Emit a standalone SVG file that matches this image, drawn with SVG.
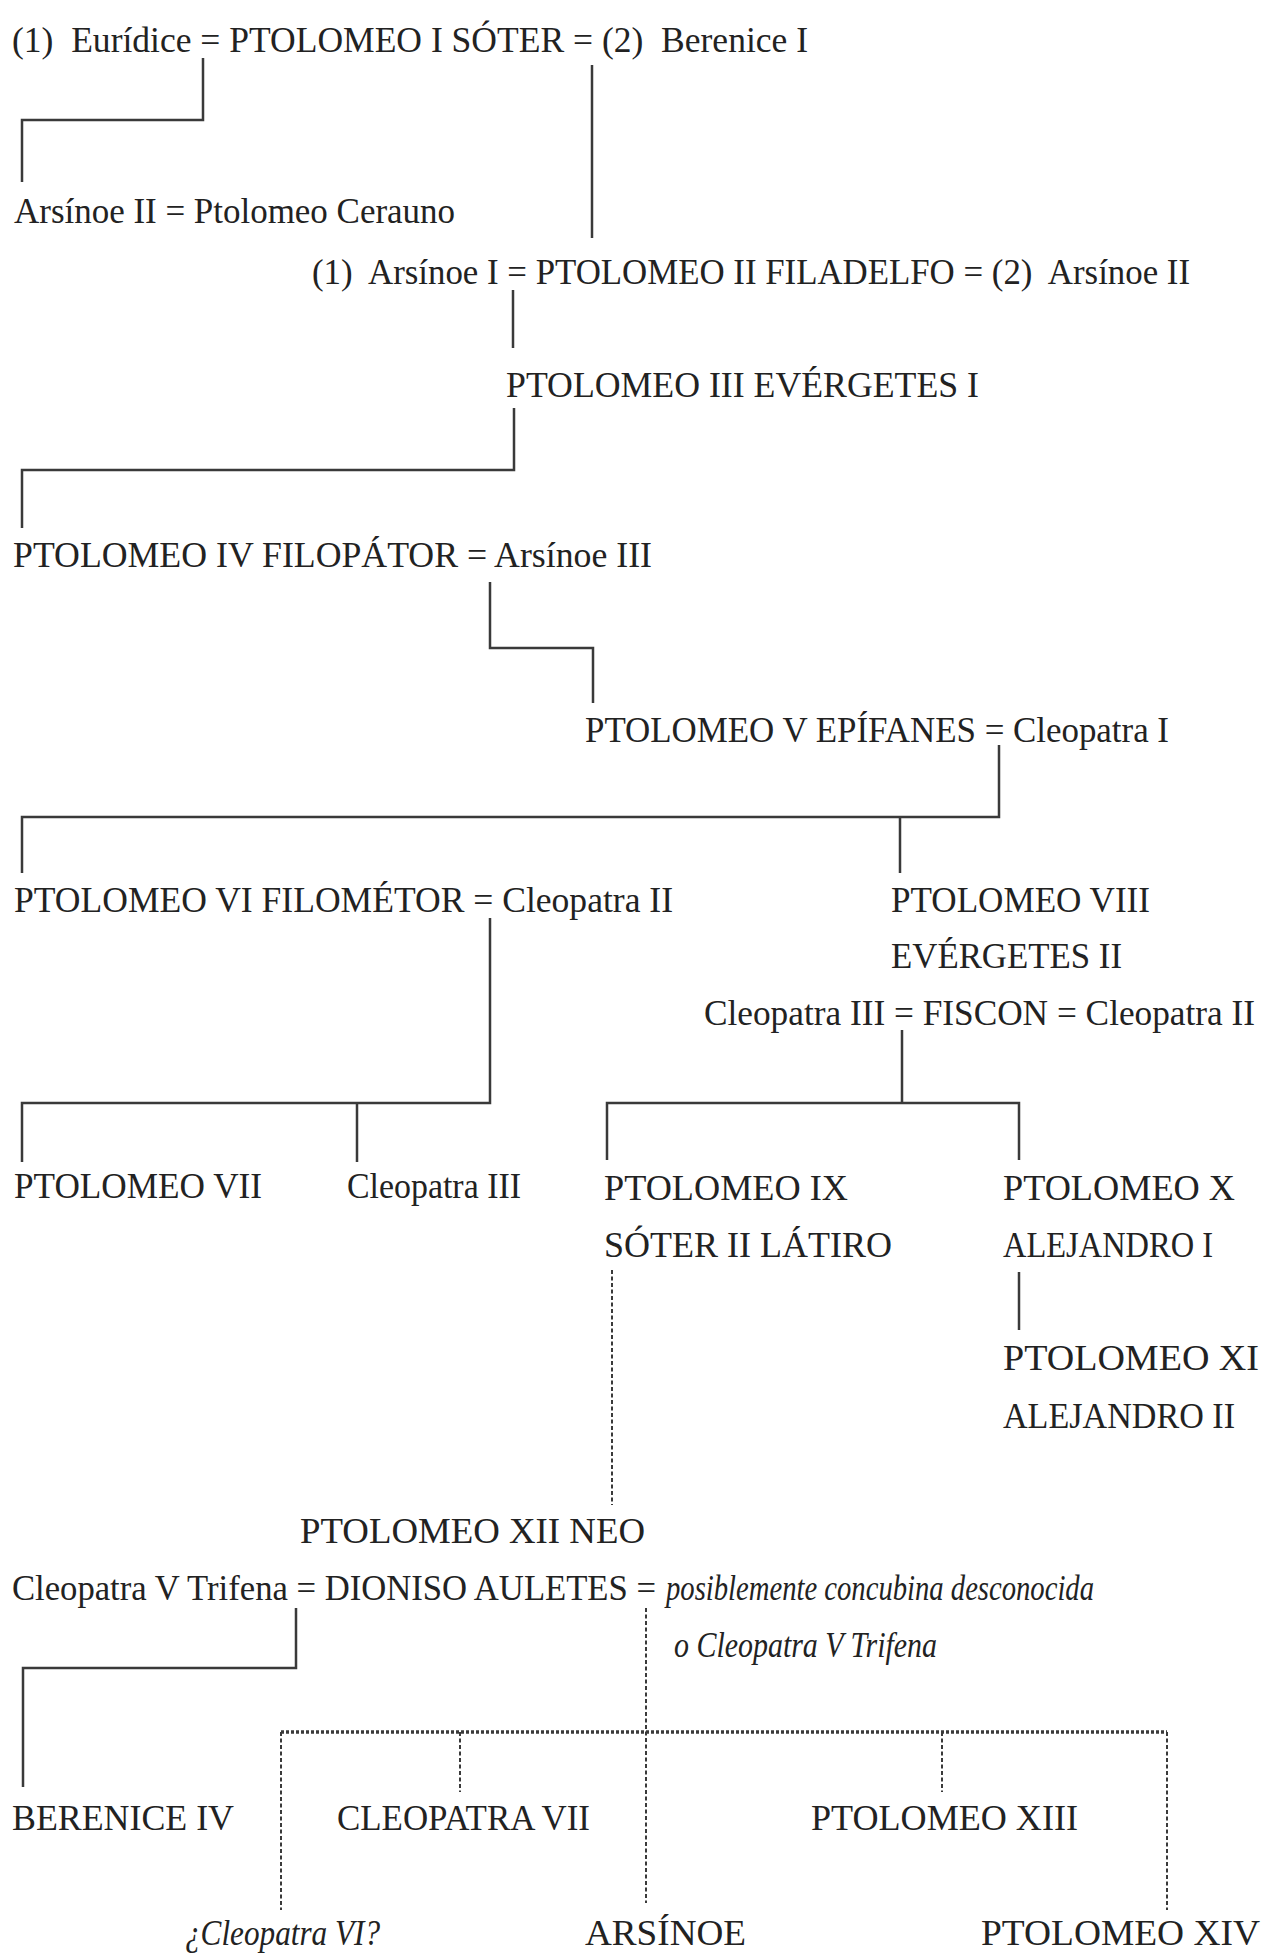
<svg xmlns="http://www.w3.org/2000/svg" width="1266" height="1955" viewBox="0 0 1266 1955">
<style>
.t{font-family:"Liberation Serif","Times New Roman",serif;font-size:35px;fill:#222}
.i{font-style:italic}
.c{stroke:#3a3a3a;stroke-width:2.5;fill:none}
.d{stroke:#3a3a3a;stroke-width:2;fill:none;stroke-dasharray:4 2.5}
.dh{stroke:#3a3a3a;stroke-width:3.5;fill:none;stroke-dasharray:3 2}
</style>
<rect width="1266" height="1955" fill="#fff"/>
<g id="connectors">
<path class="c" d="M203 58V120H22V182"/>
<path class="c" d="M592 65V238"/>
<path class="c" d="M513 290V348"/>
<path class="c" d="M514 408V470H22V528"/>
<path class="c" d="M490 582V648H593V703"/>
<path class="c" d="M999 745V817H22V873M900 817V873"/>
<path class="c" d="M490 918V1103H22V1162M357 1103V1162"/>
<path class="c" d="M607 1160V1103H1019V1160M902 1030V1103"/>
<path class="c" d="M1019 1272V1330"/>
<path class="d" d="M612 1270V1505"/>
<path class="c" d="M296 1608V1668H23V1787"/>
<path class="d" d="M646 1608V1903"/>
<path class="dh" d="M281 1732H1167"/>
<path class="d" d="M281 1732V1910M460 1732V1792M942 1732V1792M1167 1732V1910"/>
</g>
<g id="n-soter"><text class="t" x="12" y="52" textLength="796" lengthAdjust="spacingAndGlyphs">(1)&#160; Eurídice = PTOLOMEO I SÓTER = (2)&#160; Berenice I</text></g>
<g id="n-arsinoe2-ceraunos"><text class="t" x="14" y="223" textLength="441" lengthAdjust="spacingAndGlyphs">Arsínoe II = Ptolomeo Cerauno</text></g>
<g id="n-filadelfo"><text class="t" x="312" y="284" textLength="878" lengthAdjust="spacingAndGlyphs">(1)&#160; Arsínoe I = PTOLOMEO II FILADELFO = (2)&#160; Arsínoe II</text></g>
<g id="n-evergetes1"><text class="t" x="506" y="397" textLength="473" lengthAdjust="spacingAndGlyphs">PTOLOMEO III EVÉRGETES I</text></g>
<g id="n-filopator"><text class="t" x="13" y="567" textLength="639" lengthAdjust="spacingAndGlyphs">PTOLOMEO IV FILOPÁTOR = Arsínoe III</text></g>
<g id="n-epifanes"><text class="t" x="585" y="742" textLength="584" lengthAdjust="spacingAndGlyphs">PTOLOMEO V EPÍFANES = Cleopatra I</text></g>
<g id="n-filometor"><text class="t" x="14" y="912" textLength="659" lengthAdjust="spacingAndGlyphs">PTOLOMEO VI FILOMÉTOR = Cleopatra II</text></g>
<g id="n-evergetes2">
<text class="t" x="891" y="912" textLength="259" lengthAdjust="spacingAndGlyphs">PTOLOMEO VIII</text>
<text class="t" x="891" y="968" textLength="231" lengthAdjust="spacingAndGlyphs">EVÉRGETES II</text>
<text class="t" x="704" y="1025" textLength="551" lengthAdjust="spacingAndGlyphs">Cleopatra III = FISCON = Cleopatra II</text>
</g>
<g id="n-ptolomeo7"><text class="t" x="14" y="1198" textLength="248" lengthAdjust="spacingAndGlyphs">PTOLOMEO VII</text></g>
<g id="n-cleopatra3"><text class="t" x="347" y="1198" textLength="174" lengthAdjust="spacingAndGlyphs">Cleopatra III</text></g>
<g id="n-ptolomeo9">
<text class="t" x="604" y="1200" textLength="244" lengthAdjust="spacingAndGlyphs">PTOLOMEO IX</text>
<text class="t" x="604" y="1257" textLength="288" lengthAdjust="spacingAndGlyphs">SÓTER II LÁTIRO</text>
</g>
<g id="n-ptolomeo10">
<text class="t" x="1003" y="1200" textLength="232" lengthAdjust="spacingAndGlyphs">PTOLOMEO X</text>
<text class="t" x="1003" y="1257" textLength="210" lengthAdjust="spacingAndGlyphs">ALEJANDRO I</text>
</g>
<g id="n-ptolomeo11">
<text class="t" x="1003" y="1370" textLength="256" lengthAdjust="spacingAndGlyphs">PTOLOMEO XI</text>
<text class="t" x="1003" y="1428" textLength="232" lengthAdjust="spacingAndGlyphs">ALEJANDRO II</text>
</g>
<g id="n-auletes">
<text class="t" x="300" y="1543" textLength="345" lengthAdjust="spacingAndGlyphs">PTOLOMEO XII NEO</text>
<text class="t" x="12" y="1600" textLength="644" lengthAdjust="spacingAndGlyphs">Cleopatra V Trifena = DIONISO AULETES =</text>
<text class="t i" x="666" y="1600" textLength="428" lengthAdjust="spacingAndGlyphs">posiblemente concubina desconocida</text>
<text class="t i" x="674" y="1657" textLength="263" lengthAdjust="spacingAndGlyphs">o Cleopatra V Trifena</text>
</g>
<g id="n-berenice4"><text class="t" x="12" y="1830" textLength="222" lengthAdjust="spacingAndGlyphs">BERENICE IV</text></g>
<g id="n-cleopatra7"><text class="t" x="337" y="1830" textLength="253" lengthAdjust="spacingAndGlyphs">CLEOPATRA VII</text></g>
<g id="n-ptolomeo13"><text class="t" x="811" y="1830" textLength="267" lengthAdjust="spacingAndGlyphs">PTOLOMEO XIII</text></g>
<g id="n-cleopatra6"><text class="t i" x="185" y="1945" textLength="195" lengthAdjust="spacingAndGlyphs">¿Cleopatra VI?</text></g>
<g id="n-arsinoe"><text class="t" x="585" y="1945" textLength="161" lengthAdjust="spacingAndGlyphs">ARSÍNOE</text></g>
<g id="n-ptolomeo14"><text class="t" x="981" y="1945" textLength="279" lengthAdjust="spacingAndGlyphs">PTOLOMEO XIV</text></g>
</svg>
